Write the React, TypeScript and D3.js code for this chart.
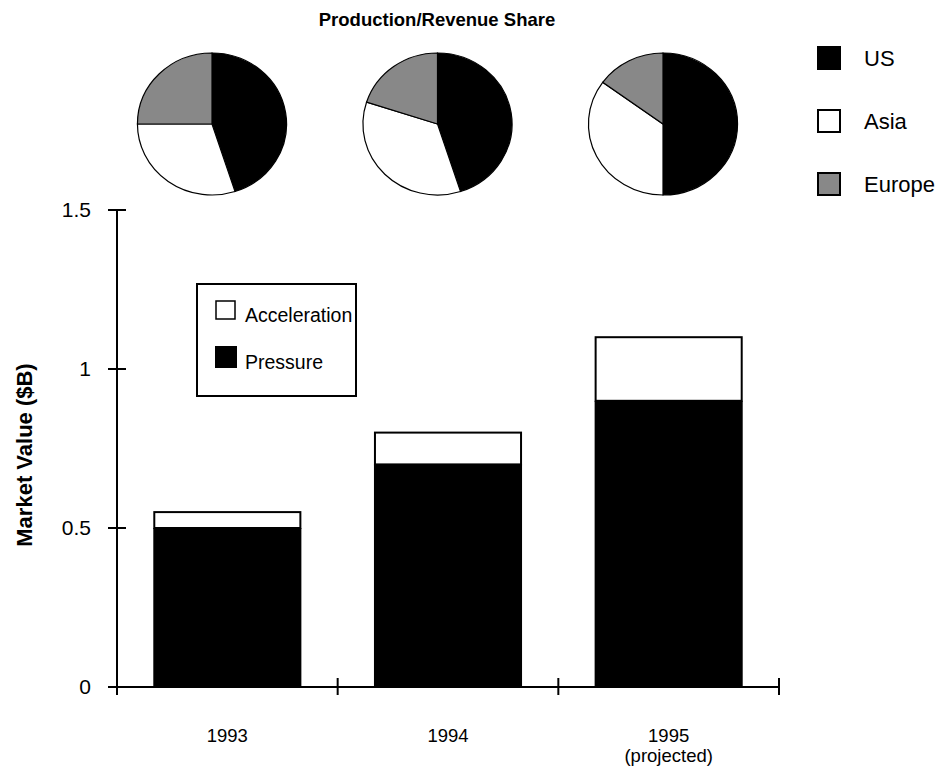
import React, { useEffect, useRef } from 'react';
import * as d3 from 'd3';

const years = ['1993', '1994', '1995'];
const yearLabels = [['1993'], ['1994'], ['1995', '(projected)']];
const pressure = [0.5, 0.7, 0.9];
const acceleration = [0.05, 0.1, 0.2];
const yTicks = [0, 0.5, 1, 1.5];

const regions = ['US', 'Asia', 'Europe'];
const regionColors = ['#000000', '#ffffff', '#888888'];
const usShare = [45, 45, 50];
const asiaShare = [30, 35, 35];
const europeShare = [25, 20, 15];

const FONT = '"Liberation Sans", Arial, Helvetica, sans-serif';

export default function App() {
  const svgRef = useRef<SVGSVGElement>(null);

  useEffect(() => {
    if (!svgRef.current) return;
    const svg = d3.select(svgRef.current);
    svg.selectAll('*').remove();

    const y = d3.scaleLinear().domain([0, 1.5]).range([687, 210]);
    const x = d3.scaleBand<string>()
      .domain(years)
      .range([117, 779])
      .paddingInner(0.338)
      .paddingOuter(0.169);

    // title
    svg.append('text')
      .attr('x', 437)
      .attr('y', 26)
      .attr('text-anchor', 'middle')
      .attr('font-family', FONT)
      .attr('font-weight', 'bold')
      .attr('font-size', 18.5)
      .text('Production/Revenue Share');

    // pies
    const pieX = d3.scalePoint<string>().domain(years).range([212, 663]);
    const pie = d3.pie<number>().sort(null).value(d => d);
    const arc = d3.arc<d3.PieArcDatum<number>>().innerRadius(0).outerRadius(71);

    years.forEach((yr, i) => {
      const shares = [usShare[i], asiaShare[i], europeShare[i]];
      const g = svg.append('g')
        .attr('transform', `translate(${pieX(yr)},124) scale(1.05,1)`);
      g.selectAll('path')
        .data(pie(shares))
        .join('path')
        .attr('d', arc)
        .attr('fill', (_, j) => regionColors[j])
        .attr('stroke', '#000')
        .attr('stroke-width', 1.2)
        .attr('vector-effect', 'non-scaling-stroke');
    });

    // region legend
    const rl = svg.append('g');
    const legendY = d3.scalePoint<string>().domain(regions).range([58, 184]);
    regions.forEach((r, j) => {
      rl.append('rect')
        .attr('x', 818)
        .attr('y', legendY(r)! - 11)
        .attr('width', 22)
        .attr('height', 22)
        .attr('fill', regionColors[j])
        .attr('stroke', '#000')
        .attr('stroke-width', 2);
      rl.append('text')
        .attr('x', 864)
        .attr('y', legendY(r)! + 8)
        .attr('font-family', FONT)
        .attr('font-size', 22)
        .text(r);
    });

    // bars
    const bars = svg.append('g');
    years.forEach((yr, i) => {
      const total = pressure[i] + acceleration[i];
      bars.append('rect')
        .attr('x', x(yr)!)
        .attr('y', y(total))
        .attr('width', x.bandwidth())
        .attr('height', y(pressure[i]) - y(total))
        .attr('fill', '#fff')
        .attr('stroke', '#000')
        .attr('stroke-width', 2);
      bars.append('rect')
        .attr('x', x(yr)! - 1)
        .attr('y', y(pressure[i]))
        .attr('width', x.bandwidth() + 2)
        .attr('height', y(0) - y(pressure[i]))
        .attr('fill', '#000');
    });

    // axes
    const axis = svg.append('g')
      .attr('stroke', '#000')
      .attr('stroke-width', 2);
    axis.append('line')
      .attr('x1', 117).attr('x2', 117)
      .attr('y1', y(1.5)).attr('y2', y(0) + 8);
    axis.append('line')
      .attr('x1', 108).attr('x2', 779)
      .attr('y1', y(0)).attr('y2', y(0));
    yTicks.forEach(t => {
      axis.append('line')
        .attr('x1', 108).attr('x2', 126)
        .attr('y1', y(t)).attr('y2', y(t));
    });
    const step = x.step();
    const bounds = years.map(d => x(d)! - step * x.paddingInner() / 2).concat([779]);
    bounds.forEach(b => {
      axis.append('line')
        .attr('x1', b).attr('x2', b)
        .attr('y1', y(0) - 9).attr('y2', y(0) + 8);
    });

    svg.append('g')
      .selectAll('text')
      .data(yTicks)
      .join('text')
      .attr('x', 91)
      .attr('y', d => y(d) + 7)
      .attr('text-anchor', 'end')
      .attr('font-family', FONT)
      .attr('font-size', 21)
      .text(d => String(d));

    years.forEach((yr, i) => {
      yearLabels[i].forEach((line, k) => {
        svg.append('text')
          .attr('x', x(yr)! + x.bandwidth() / 2)
          .attr('y', 742 + k * 20)
          .attr('text-anchor', 'middle')
          .attr('font-family', FONT)
          .attr('font-size', 18.5)
          .text(line);
      });
    });

    svg.append('text')
      .attr('transform', `translate(32,455) rotate(-90)`)
      .attr('text-anchor', 'middle')
      .attr('font-family', FONT)
      .attr('font-weight', 'bold')
      .attr('font-size', 22)
      .text('Market Value ($B)');

    // bar legend
    const bl = svg.append('g');
    bl.append('rect')
      .attr('x', 197).attr('y', 284)
      .attr('width', 159).attr('height', 112)
      .attr('fill', '#fff')
      .attr('stroke', '#000')
      .attr('stroke-width', 2);
    bl.append('rect')
      .attr('x', 216).attr('y', 301)
      .attr('width', 19).attr('height', 18)
      .attr('fill', '#fff')
      .attr('stroke', '#000')
      .attr('stroke-width', 1.5);
    bl.append('text')
      .attr('x', 245).attr('y', 322)
      .attr('font-family', FONT)
      .attr('font-size', 19.5)
      .text('Acceleration');
    bl.append('rect')
      .attr('x', 215).attr('y', 346)
      .attr('width', 22).attr('height', 22)
      .attr('fill', '#000');
    bl.append('text')
      .attr('x', 245).attr('y', 369)
      .attr('font-family', FONT)
      .attr('font-size', 19.5)
      .text('Pressure');
  }, []);

  return (
    <svg
      ref={svgRef}
      width={949}
      height={767}
      style={{ position: 'absolute', left: 0, top: 0, background: '#fff' }}
    />
  );
}
